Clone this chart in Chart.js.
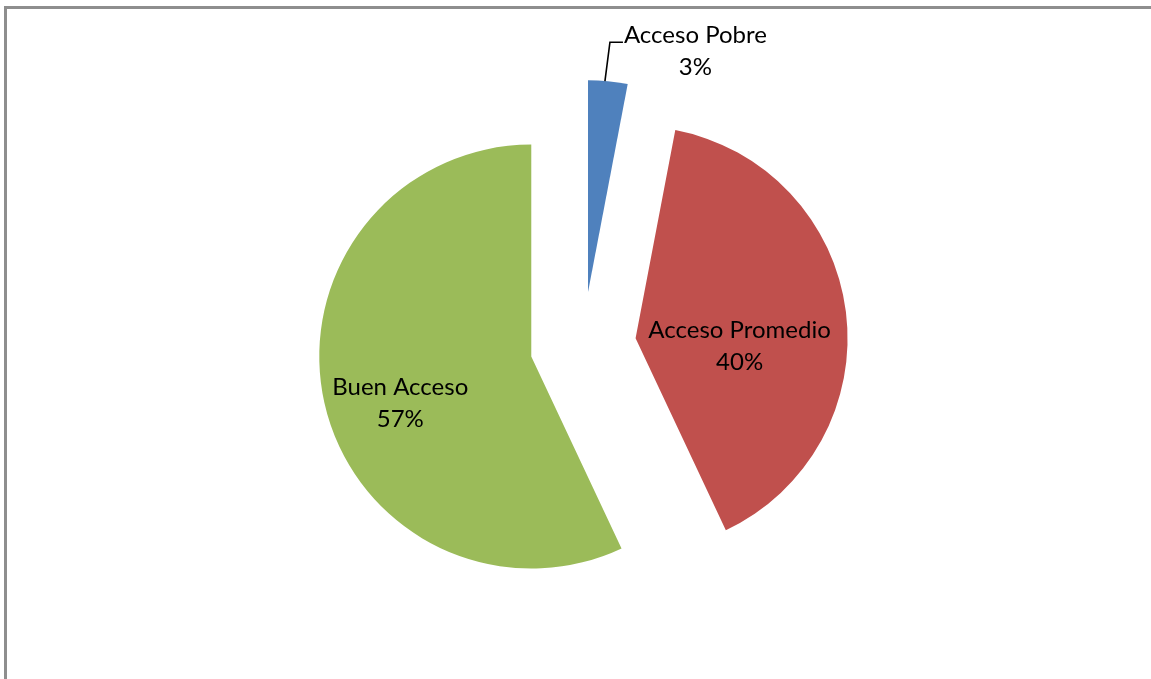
<!DOCTYPE html>
<html>
<head>
<meta charset="utf-8">
<script src="https://cdn.jsdelivr.net/npm/chart.js@4/dist/chart.umd.min.js"></script>
<style>
  html, body { margin: 0; padding: 0; background: #fff; overflow: hidden; }
  #wrap { position: relative; width: 1151px; height: 679px; overflow: hidden; }
  #frame {
    position: absolute; left: 4px; top: 6px; width: 1200px; height: 720px;
    border-left: 3px solid #8e8e8e; border-top: 3px solid #8e8e8e;
  }
  canvas { position: absolute; left: 0; top: 0; }
</style>
</head>
<body>
<div id="wrap">
  <div id="frame"></div>
  <canvas id="chart" width="1151" height="679"></canvas>
</div>
<script>
// Access categories and their share of the total (%)
const categories = ['Acceso Pobre', 'Acceso Promedio', 'Buen Acceso'];
const shares = [3, 40, 57];
const sliceColors = ['#4F81BD', '#C0504D', '#9BBB59'];

const RADIUS = 212;   // pie radius in px
const EXPLODE = 53;   // distance each slice is pulled away from the centre
const FONT = '24px Lato, "Open Sans", sans-serif';
const LINE_GAP = 32;

// Chart.js moves an arc by offset/4, but it also enlarges the arc and trims
// its angles; undo that so every exploded slice keeps its true radius and sweep.
const keepShape = {
  id: 'keepShape',
  afterDatasetsUpdate(chart) {
    chart.getDatasetMeta(0).data.forEach(arc => {
      const t = (arc.options.offset || 0) / 4;
      const grow = t * (1 - Math.sin(Math.min(Math.PI, arc.circumference)));
      arc.outerRadius = RADIUS - grow;
      const trim = grow / (2 * Math.PI * RADIUS);
      arc.startAngle -= trim;
      arc.endAngle += trim;
    });
  }
};

// Data labels: category name over the percentage
const sliceLabels = {
  id: 'sliceLabels',
  afterDatasetsDraw(chart) {
    const ctx = chart.ctx;
    const arcs = chart.getDatasetMeta(0).data;
    ctx.save();
    ctx.font = FONT;
    ctx.fillStyle = '#000';
    ctx.textAlign = 'center';
    ctx.textBaseline = 'alphabetic';
    arcs.forEach((arc, i) => {
      const mid = (arc.startAngle + arc.endAngle) / 2;
      const t = (arc.options.offset || 0) / 4;
      const ax = arc.x + Math.cos(mid) * t;
      const ay = arc.y + Math.sin(mid) * t;
      const lines = [categories[i], shares[i] + '%'];
      let x, y;
      if (i === 0) {
        // outside label with an elbow leader line from the slice's outer edge
        const ox = ax + Math.cos(mid) * RADIUS;
        const oy = ay + Math.sin(mid) * RADIUS;
        const ex = ox + 2, ey = oy - 39;
        ctx.beginPath();
        ctx.strokeStyle = '#000';
        ctx.lineWidth = 1.6;
        ctx.moveTo(ox - 3, oy);
        ctx.lineTo(ex, ey);
        ctx.lineTo(ex + 13, ey);
        ctx.stroke();
        const w = ctx.measureText(lines[0]).width;
        x = ex + 14 + w / 2;
        y = ey + 1;
      } else if (i === 1) {
        x = ax + 104; y = ay;
      } else {
        x = ax - 131; y = ay + 38;
      }
      lines.forEach((s, k) => ctx.fillText(s, x, y + k * LINE_GAP));
    });
    ctx.restore();
  }
};

new Chart(document.getElementById('chart'), {
  type: 'pie',
  data: {
    labels: categories,
    datasets: [{
      data: shares,
      backgroundColor: sliceColors,
      borderWidth: 0,
      offset: shares.map(() => EXPLODE * 4)
    }]
  },
  options: {
    responsive: false,
    animation: false,
    events: [],
    radius: RADIUS,
    layout: { padding: { left: 15, top: 11, right: 0, bottom: 0 } },
    plugins: {
      legend: { display: false },
      tooltip: { enabled: false }
    }
  },
  plugins: [keepShape, sliceLabels]
});
</script>
</body>
</html>
